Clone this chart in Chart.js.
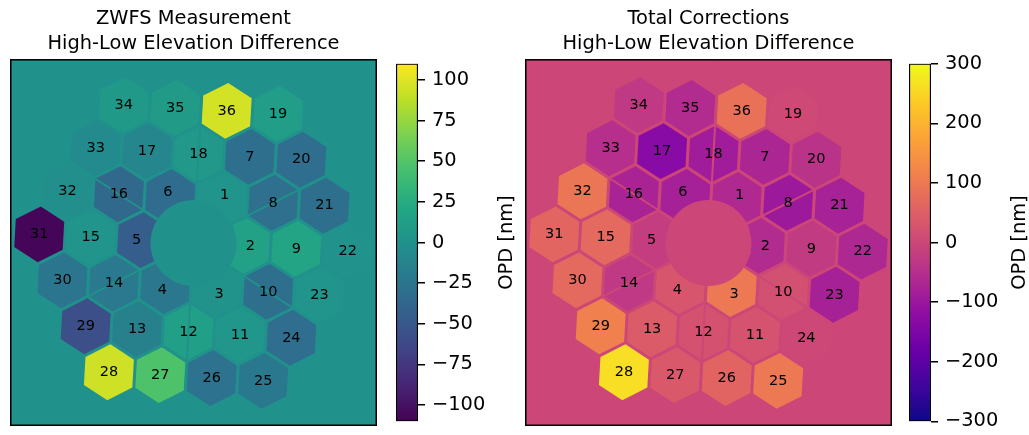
<!DOCTYPE html>
<html>
<head>
<meta charset="utf-8">
<script src="https://cdn.jsdelivr.net/npm/chart.js@4.4.1/dist/chart.umd.min.js"></script>
<style>
  html, body { margin: 0; padding: 0; background: #fff; width: 1029px; height: 435px; overflow: hidden; }
  body { position: relative; }
  canvas { position: absolute; }
</style>
</head>
<body>
<canvas id="pupilZwfs" width="367" height="426" style="left:10px;top:0"></canvas>
<canvas id="barZwfs" width="132" height="395" style="left:396px;top:45px"></canvas>
<canvas id="pupilCorr" width="367" height="426" style="left:525px;top:0"></canvas>
<canvas id="barCorr" width="120" height="395" style="left:909px;top:45px"></canvas>
<script>
// Segment numbering (3 rings: 1-6, 7-18, 19-36)
const segmentNumbers = [1,2,3,4,5,6,7,8,9,10,11,12,13,14,15,16,17,18,
                        19,20,21,22,23,24,25,26,27,28,29,30,31,32,33,34,35,36];

// ZWFS measured OPD difference per segment [nm]
const zwfsOpd = [4, 15, 2, -23, -45, -33, -30, -29, 18, -30, 5, 13, -14, -21, 3, -35, -10, 7,
                 12, -31, -30, 1, 3, -31, -22, -27, 48, 94, -57, -24, -107, -2, -6, 8, 10, 96];

// Total corrections OPD difference per segment [nm]
const corrOpd = [-62, -58, 100, 30, -20, -80, -68, -95, -25, 18, 25, 22, 42, -30, 70, -75, -130, -90,
                 5, -42, -77, -65, -78, 3, 100, 60, 38, 262, 112, 70, 62, 93, -50, -30, -58, 85];

// Colour limits and colorbar ticks
const zwfsLimits = [-110, 110];
const zwfsTicks = [100, 75, 50, 25, 0, -25, -50, -75, -100];
const corrLimits = [-300, 300];
const corrTicks = [300, 200, 100, 0, -100, -200, -300];

const zwfsTitle = ['ZWFS Measurement', 'High-Low Elevation Difference'];
const corrTitle = ['Total Corrections', 'High-Low Elevation Difference'];
const colorbarLabel = 'OPD [nm]';

// ---- pupil geometry (panel pixel units, y pointing down) ----
const PANEL = 367;
const CENTER = [183.5, 184];
const PITCH = 51.5;          // segment centre spacing
const ROT = -3.2;            // grid rotation, degrees
const HEX_R = 28;            // segment circumradius
const FLAT = HEX_R * Math.sqrt(3);
const HOLE_R = 43;           // central obscuration radius
const SPIDER_W = 2;
const D2R = Math.PI / 180;

// centres in y-up coordinates relative to pupil centre, in segment order
function segmentCentres() {
  const out = [];
  const start = ROT + 60;
  for (let k = 1; k <= 3; k++) {
    for (let j = 0; j < 6; j++) {
      const a0 = (start - 60 * j) * D2R, a1 = (start - 60 * (j + 1)) * D2R;
      const c0 = [k * PITCH * Math.cos(a0), k * PITCH * Math.sin(a0)];
      const c1 = [k * PITCH * Math.cos(a1), k * PITCH * Math.sin(a1)];
      for (let m = 0; m < k; m++) {
        const f = m / k;
        out.push([c0[0] + (c1[0] - c0[0]) * f, c0[1] + (c1[1] - c0[1]) * f]);
      }
    }
  }
  return out;
}
const toPanel = (p) => ({ x: CENTER[0] + p[0], y: CENTER[1] - p[1] });

function hexOutline(c) {
  const pts = [];
  for (let m = 0; m <= 6; m++) {
    const a = (90 + ROT + 60 * m) * D2R;
    pts.push(toPanel([c[0] + HEX_R * Math.cos(a), c[1] + HEX_R * Math.sin(a)]));
  }
  return pts;
}
function insideHex(dx, dy) {
  for (let m = 0; m < 3; m++) {
    const a = (ROT + 60 * m) * D2R;
    if (Math.abs(dx * Math.cos(a) + dy * Math.sin(a)) > FLAT / 2) return false;
  }
  return true;
}
// label anchor = centroid of the part of a segment not hidden by the obscuration
function visibleCentroid(c) {
  let sx = 0, sy = 0, n = 0;
  for (let dx = -HEX_R; dx <= HEX_R; dx += 0.5) {
    for (let dy = -HEX_R; dy <= HEX_R; dy += 0.5) {
      if (!insideHex(dx, dy)) continue;
      const px = c[0] + dx, py = c[1] + dy;
      if (px * px + py * py < HOLE_R * HOLE_R) continue;
      sx += px; sy += py; n++;
    }
  }
  return toPanel([sx / n, sy / n]);
}

// ---- colormaps ----
const VIRIDIS = ['#440154','#482475','#414487','#355f8d','#2a788e','#21918c','#22a884','#44bf70','#7ad151','#bddf26','#fde725'];
const PLASMA  = ['#0d0887','#41049d','#6a00a8','#8f0da4','#b12a90','#cc4778','#e16462','#f2844b','#fca636','#fcce25','#f0f921'];
function makeCmap(stops) {
  const rgb = stops.map(h => [1, 3, 5].map(i => parseInt(h.substr(i, 2), 16)));
  return (t) => {
    t = Math.min(1, Math.max(0, t));
    const s = t * (rgb.length - 1), i = Math.min(rgb.length - 2, Math.floor(s)), f = s - i;
    const c = rgb[i].map((v, k) => Math.round(v + (rgb[i + 1][k] - v) * f));
    return `rgb(${c[0]},${c[1]},${c[2]})`;
  };
}
const viridis = makeCmap(VIRIDIS);
const plasma = makeCmap(PLASMA);

Chart.defaults.font.family = '"DejaVu Sans", sans-serif';
Chart.defaults.color = '#000';

const centres = segmentCentres();
const labelPoints = centres.map(visibleCentroid);

const pupilBackground = {
  id: 'pupilBackground',
  beforeDatasetsDraw(chart, args, opts) {
    const { ctx, chartArea: a } = chart;
    ctx.save();
    ctx.fillStyle = opts.color;
    ctx.fillRect(a.left, a.top, a.right - a.left, a.bottom - a.top);
    ctx.restore();
  }
};
const pupilFrame = {
  id: 'pupilFrame',
  afterDraw(chart) {
    const { ctx, chartArea: a } = chart;
    ctx.save();
    ctx.strokeStyle = '#000';
    ctx.lineWidth = 1.5;
    ctx.strokeRect(a.left + 0.75, a.top + 0.75, a.right - a.left - 1.5, a.bottom - a.top - 1.5);
    ctx.restore();
  }
};
const segmentLabels = {
  id: 'segmentLabels',
  afterDatasetsDraw(chart) {
    const { ctx, scales: { x, y } } = chart;
    ctx.save();
    ctx.font = '14.5px "DejaVu Sans"';
    ctx.fillStyle = '#000';
    ctx.textAlign = 'center';
    ctx.textBaseline = 'middle';
    labelPoints.forEach((p, i) => {
      ctx.fillText(String(segmentNumbers[i]), x.getPixelForValue(p.x), y.getPixelForValue(p.y));
    });
    ctx.restore();
  }
};

function pupilChart(id, values, limits, cmap, title) {
  const zeroColour = cmap((0 - limits[0]) / (limits[1] - limits[0]));
  const datasets = [];
  values.forEach((v, i) => {
    const col = cmap((v - limits[0]) / (limits[1] - limits[0]));
    datasets.push({
      data: hexOutline(centres[i]), showLine: true, fill: 'shape',
      backgroundColor: col, borderColor: 'rgba(0,0,0,0)', borderWidth: 0,
      pointRadius: 0, order: 3
    });
  });
  // central obscuration
  const hole = [];
  for (let a = 0; a <= 360; a += 5) hole.push(toPanel([HOLE_R * Math.cos(a * D2R), HOLE_R * Math.sin(a * D2R)]));
  datasets.push({ data: hole, showLine: true, fill: 'shape', backgroundColor: zeroColour,
                  borderColor: 'rgba(0,0,0,0)', borderWidth: 0, pointRadius: 0, order: 2 });
  // spider vanes
  for (let m = 0; m < 3; m++) {
    const a = (30 + ROT + 60 * m) * D2R;
    datasets.push({
      data: [toPanel([-200 * Math.cos(a), -200 * Math.sin(a)]), toPanel([200 * Math.cos(a), 200 * Math.sin(a)])],
      showLine: true, fill: false, borderColor: zeroColour, borderWidth: SPIDER_W, pointRadius: 0, order: 1
    });
  }
  return new Chart(document.getElementById(id), {
    type: 'scatter',
    data: { datasets },
    options: {
      responsive: false, animation: false, events: [],
      layout: { padding: 0 },
      scales: {
        x: { type: 'linear', min: 0, max: PANEL, display: false },
        y: { type: 'linear', min: 0, max: PANEL, reverse: true, display: false }
      },
      plugins: {
        legend: { display: false }, tooltip: { enabled: false },
        title: { display: true, text: title, color: '#000',
                 font: { size: 19.4, weight: 'normal', lineHeight: 1.29 },
                 padding: { top: 6, bottom: 3 } },
        pupilBackground: { color: zeroColour }
      }
    },
    plugins: [pupilBackground, segmentLabels, pupilFrame]
  });
}

const colorbarLabelPlugin = {
  id: 'colorbarLabel',
  afterDraw(chart, args, opts) {
    const { ctx, chartArea: a } = chart;
    ctx.save();
    ctx.font = '19.4px "DejaVu Sans"';
    ctx.fillStyle = '#000';
    ctx.textAlign = 'center';
    ctx.textBaseline = 'middle';
    ctx.translate(opts.x, (a.top + a.bottom) / 2);
    ctx.rotate(-Math.PI / 2);
    ctx.fillText(opts.text, 0, 0);
    ctx.restore();
  }
};

function colorbarChart(id, limits, ticks, cmap, labelX) {
  const canvas = document.getElementById(id);
  const barWidth = 22;
  return new Chart(canvas, {
    type: 'bar',
    data: {
      labels: [''],
      datasets: [{
        data: [[limits[0], limits[1]]],
        backgroundColor: (c) => {
          const area = c.chart.chartArea;
          if (!area) return cmap(0.5);
          const g = c.chart.ctx.createLinearGradient(0, area.bottom, 0, area.top);
          for (let i = 0; i <= 40; i++) g.addColorStop(i / 40, cmap(i / 40));
          return g;
        },
        borderColor: '#000', borderWidth: 1.5, borderSkipped: false,
        barPercentage: 1, categoryPercentage: 1
      }]
    },
    options: {
      responsive: false, animation: false, events: [],
      layout: { padding: { top: 14, bottom: 14, left: 0, right: 0 } },
      scales: {
        x: { display: false },
        y: {
          position: 'right', min: limits[0], max: limits[1],
          afterBuildTicks: (s) => { s.ticks = ticks.map(v => ({ value: v })); },
          afterFit: (s) => { s.width = canvas.width - barWidth; },
          grid: { drawOnChartArea: false, drawTicks: true, tickLength: 7, color: '#000', lineWidth: 1.5 },
          border: { display: false },
          ticks: {
            padding: 7, color: '#000', autoSkip: false, maxRotation: 0,
            font: { size: 19.4 },
            callback: (v) => (v < 0 ? '\u2212' + Math.abs(v) : String(v))
          }
        }
      },
      plugins: {
        legend: { display: false }, tooltip: { enabled: false },
        colorbarLabel: { text: colorbarLabel, x: labelX }
      }
    },
    plugins: [colorbarLabelPlugin]
  });
}

pupilChart('pupilZwfs', zwfsOpd, zwfsLimits, viridis, zwfsTitle);
colorbarChart('barZwfs', zwfsLimits, zwfsTicks, viridis, 111);
pupilChart('pupilCorr', corrOpd, corrLimits, plasma, corrTitle);
colorbarChart('barCorr', corrLimits, corrTicks, plasma, 111);
</script>
</body>
</html>
